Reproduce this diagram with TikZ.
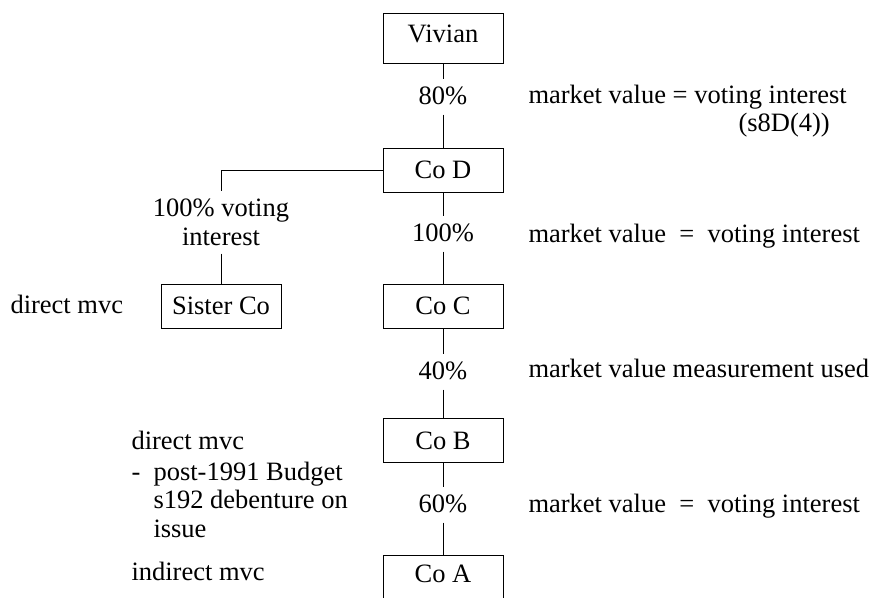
\documentclass[tikz,border=0pt]{standalone}
\usepackage{fontspec}
\setmainfont{Liberation Serif}
\begin{document}
\begin{tikzpicture}[x=1pt, y=-1pt, line width=1pt,
  every node/.style={font=\fontsize{26.5}{29}\selectfont},
  cobox/.style={draw, minimum width=120pt, minimum height=44pt, inner sep=0pt,
                text height=17.5pt, text depth=0pt},
  pct/.style={inner xsep=2pt, inner ysep=0pt, text height=25pt, text depth=10pt, anchor=base},
  note/.style={anchor=base west, inner sep=0pt}]
\useasboundingbox (0,0) rectangle (880,597);

% companies
\node[cobox, minimum height=50pt, text depth=9.5pt] (viv) at (443,38) {Vivian};
\node[cobox] (cod) at (443,170) {Co D};
\node[cobox] (sis) at (221,306) {Sister Co};
\node[cobox] (coc) at (443,306) {Co C};
\node[cobox] (cob) at (443,440.5) {Co B};
\node[cobox, minimum height=50pt, text depth=13.5pt] (coa) at (443,580) {Co A};

% holdings
\node[pct] (p80) at (443,104) {80\%};
\node[pct] (p100) at (443,241) {100\%};
\node[pct] (p40) at (443,379) {40\%};
\node[pct] (p60) at (443,512) {60\%};
\node[align=center, inner sep=0pt, minimum height=62pt] (pv) at (221,222) {100\% voting\\interest};

\draw (viv) -- (p80) -- (cod);
\draw (cod) -- (p100) -- (coc);
\draw (coc) -- (p40) -- (cob);
\draw (cob) -- (p60) -- (coa);
\draw (cod.west) -| (pv.north);
\draw (pv) -- (sis);

% measurement notes
\node[note] (n1) at (528,103) {market value = voting interest};
\node[note] (n1b) at (738,131) {(s8D(4))};
\node[note] (n2) at (528,242) {market value~~=~~voting interest};
\node[note] (n3) at (528,377) {market value measurement used};
\node[note] (n4) at (528,512) {market value~~=~~voting interest};

\node[note] (l1) at (10,313) {direct mvc};
\node[note] (l2) at (131,449) {direct mvc};
\node[note] (l3) at (131,480) {-};
\node[note] (l4) at (153,480) {post-1991 Budget};
\node[note] (l5) at (153,508) {s192 debenture on};
\node[note] (l6) at (153,537) {issue};
\node[note] (l7) at (131,580) {indirect mvc};
\end{tikzpicture}
\end{document}
